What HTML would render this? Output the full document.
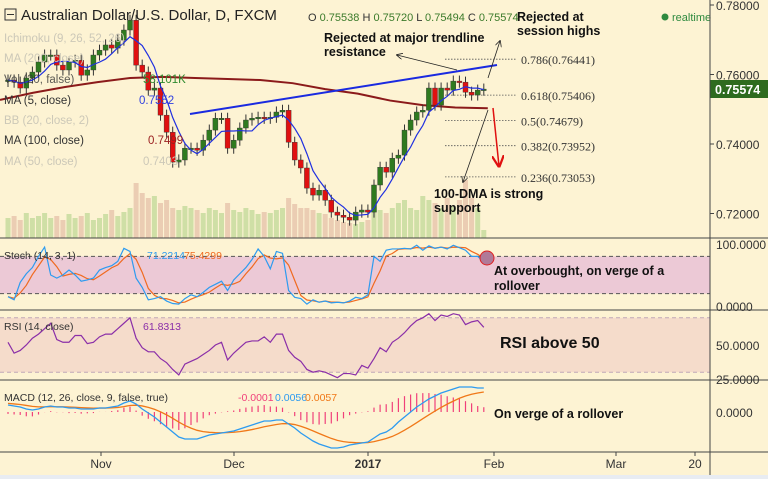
<!DOCTYPE html>
<html><head><meta charset="utf-8"><style>
html,body{margin:0;padding:0;background:#fdf3d3;}
svg{display:block;font-family:"Liberation Sans",sans-serif;}
</style></head><body>
<svg id="chart" width="768" height="479" viewBox="0 0 768 479">
<rect x="0" y="0" width="768" height="479" fill="#fdf3d3"/>
<g id="bands"></g>
<g id="vol"></g>
<g id="grid"></g>
<g id="marks"></g>
<g id="anno"></g>
<g id="axes"></g>
</svg>
<script>
// ---- data ----
const closes=[.7584,.7578,.7561,.7590,.7607,.7636,.7656,.7656,.7627,.7613,.7636,.7641,.7598,.7613,.7656,.7670,.7685,.7676,.7699,.7728,.7756,.7627,.7607,.7555,.7561,.7483,.7434,.7348,.7354,.7388,.7388,.7382,.7411,.7440,.7474,.7474,.7388,.7411,.7446,.7469,.7474,.7477,.7474,.7477,.7492,.7497,.7405,.7354,.7331,.7273,.7253,.7267,.7238,.7204,.7195,.7189,.7181,.7204,.7210,.7204,.7282,.7333,.7319,.7359,.7368,.7440,.7469,.7492,.7497,.7561,.7512,.7561,.7555,.7581,.7578,.7549,.7541,.7555,.7558];
const volumes=[20,22,18,25,20,22,25,20,22,18,24,20,22,25,18,20,24,28,22,26,30,55,45,40,42,35,38,30,28,32,30,28,25,30,28,25,35,28,26,30,28,24,26,25,28,30,40,34,30,30,28,25,24,20,18,16,15,14,16,18,30,28,25,30,35,38,30,28,42,38,35,30,40,32,38,58,40,30,8];
const ma100=[.7527,.7547,.7564,.7578,.7590,.7593,.7590,.7587,.7584,.7575,.7558,.7545,.7525,.7512,.7505,.7503];
const stochK=[15,10,38,52,62,80,95,50,45,50,58,50,40,42,45,58,62,65,72,93,88,45,30,10,12,15,8,4,3,12,18,15,22,30,35,40,25,42,52,62,75,92,80,60,88,85,25,14,12,3,10,6,8,5,6,5,8,14,12,18,80,72,90,92,92,93,92,98,90,97,93,95,92,98,94,90,80,80,71];
const rsi=[52,44,46,50,55,58,62,66,54,52,52,57,57,51,52,56,58,58,62,66,70,55,48,45,45,40,37,32,28,36,38,40,43,46,50,52,39,44,48,52,53,53,56,52,58,58,46,41,38,32,30,31,30,28,26,29,29,28,35,33,40,48,45,52,55,59,64,68,70,73,68,72,71,73,72,65,67,68,63];
const macd=[.0028,.0024,.0020,.0012,.0008,.0012,.0020,.0024,.0020,.0020,.0016,.0016,.0012,.0012,.0012,.0016,.0016,.0020,.0024,.0036,.0044,.0032,.0012,-.0004,-.0020,-.0040,-.0060,-.0080,-.0100,-.0108,-.0108,-.0108,-.0100,-.0092,-.0088,-.0084,-.0080,-.0076,-.0068,-.0060,-.0052,-.0044,-.0036,-.0036,-.0032,-.0032,-.0048,-.0064,-.0084,-.0100,-.0116,-.0128,-.0136,-.0144,-.0144,-.0140,-.0132,-.0128,-.0124,-.0120,-.0104,-.0088,-.0080,-.0064,-.0040,-.0020,0,.0020,.0036,.0052,.0064,.0076,.0084,.0092,.0100,.0100,.0100,.0096,.0096];
const priceTicks=[0.78,0.76,0.74,0.72];
const fibLevels=[0.76441,0.75406,0.74679,0.73952,0.73053];
const fibLabels=["0.786(0.76441)","0.618(0.75406)","0.5(0.74679)","0.382(0.73952)","0.236(0.73053)"];
const xLabels=["Nov","Dec","2017","Feb","Mar","20"];
const xLabelPos=[101,234,368,494,616,695];

// ---- scales ----
const NS="http://www.w3.org/2000/svg";
const xOf=i=>8+i*6.1;
const yP=p=>5+(0.78-p)*3475;
const yS=v=>306-v*0.62;
const yR=v=>345-(v-50)*1.36;
const yM=v=>412-v*2500;
const yV=v=>238-v;
function mk(tag,attrs,parent){const e=document.createElementNS(NS,tag);for(const k in attrs)e.setAttribute(k,attrs[k]);document.getElementById(parent).appendChild(e);return e;}
function txt(s,x,y,attrs,parent){const e=mk('text',Object.assign({x:x,y:y},attrs),parent);e.textContent=s;return e;}
const N=closes.length;
const opens=closes.map((c,i)=>i===0?0.7580:closes[i-1]);
const highs=closes.map((c,i)=>Math.max(c,opens[i])+0.0016);
const lows=closes.map((c,i)=>Math.min(c,opens[i])-0.0016);

let r;
r=mk('rect',{x:0,y:yS(80),width:710,height:yS(20)-yS(80),fill:'#ecc9d6'},'bands');

r=mk('rect',{x:0,y:yR(70),width:710,height:yR(30)-yR(70),fill:'#f5dccb'},'bands');

[[yS(80)],[yS(20)]].forEach(a=>{const l=mk('line',{x1:0,x2:710,y1:a[0],y2:a[0],stroke:'#555',
'stroke-dasharray':'4,3','stroke-width':1},'bands');});
[[yR(70)],[yR(30)]].forEach(a=>{const l=mk('line',{x1:0,x2:710,y1:a[0],y2:a[0],stroke:'#c0a8b8',
'stroke-dasharray':'4,3','stroke-width':1},'bands');});

for(let i=0;i<N;i++){
 const up=closes[i]>=opens[i];
 const b=mk('rect',{x:xOf(i)-2.5,y:yV(volumes[i]),width:5,height:volumes[i],fill:up?'#cfdfa6':'#ebcdb3'},'vol');
 
 
}

let pts=ma100.map((v,k)=>[k*(xOf(N-1)+4)/(ma100.length-1),yP(v)]);
let pl=mk('polyline',{points:pts.map(p=>p.join(',')).join(' '),fill:'none',stroke:'#8b1a1a','stroke-width':2},'marks');


for(let i=0;i<N;i++){
 const up=closes[i]>=opens[i];const col=up?'#2f7a1f':'#e01010';const x=xOf(i);
 const w=mk('line',{x1:x,x2:x,y1:yP(highs[i]),y2:yP(lows[i]),stroke:'#333','stroke-width':1},'marks');
 
 const t=Math.min(yP(opens[i]),yP(closes[i]));const h=Math.max(1.5,Math.abs(yP(opens[i])-yP(closes[i])));
 const c=mk('rect',{x:x-2.5,y:t,width:5,height:h,fill:col,stroke:'#333','stroke-width':0.4},'marks');
 
}
let ma5=closes.map((c,i)=>{const s=closes.slice(Math.max(0,i-4),i+1);return s.reduce((a,b)=>a+b,0)/s.length;});
pl=mk('polyline',{points:ma5.map((v,i)=>xOf(i)+','+yP(v)).join(' '),fill:'none',stroke:'#2030e0','stroke-width':1.2},'marks');


let stochD=stochK.map((v,i)=>{const s=stochK.slice(Math.max(0,i-2),i+1);return s.reduce((a,b)=>a+b,0)/s.length;});
pl=mk('polyline',{points:stochD.map((v,i)=>xOf(i)+','+yS(v)).join(' '),fill:'none',stroke:'#f06a20','stroke-width':1.2},'marks');

pl=mk('polyline',{points:stochK.map((v,i)=>xOf(i)+','+yS(v)).join(' '),fill:'none',stroke:'#2d9bf0','stroke-width':1.2},'marks');


pl=mk('polyline',{points:rsi.map((v,i)=>xOf(i)+','+yR(v)).join(' '),fill:'none',stroke:'#8a2ea8','stroke-width':1.2},'marks');


let sig=[];let e=macd[0]+0.0008;const k=2/10;macd.forEach(v=>{e=v*k+e*(1-k);sig.push(e);});
for(let i=0;i<N;i++){
 const h=macd[i]-sig[i];
 const b=mk('line',{x1:xOf(i),x2:xOf(i),y1:yM(0),y2:yM(h*1.2),stroke:'#f0407a','stroke-width':1.2},'marks');
 
 
}
pl=mk('polyline',{points:sig.map((v,i)=>xOf(i)+','+yM(v)).join(' '),fill:'none',stroke:'#f07818','stroke-width':1.3},'marks');

pl=mk('polyline',{points:macd.map((v,i)=>xOf(i)+','+yM(v)).join(' '),fill:'none',stroke:'#2d9bf0','stroke-width':1.3},'marks');


fibLevels.forEach((p,j)=>{
 const l=mk('line',{x1:445,x2:517,y1:yP(p),y2:yP(p),stroke:'#555','stroke-dasharray':'1.5,1.5','stroke-width':0.8},'anno');
 
 const t=txt(fibLabels[j],521,yP(p)+5,{'font-size':12,fill:'#333','font-family':'"Liberation Serif",serif'},'anno');
 
});

[238,310,380,452].forEach(y=>{const l=mk('line',{x1:0,x2:768,y1:y,y2:y,stroke:'#444','stroke-width':1},'axes');
 });
let ax=mk('line',{x1:710,x2:710,y1:0,y2:475,stroke:'#444','stroke-width':1},'axes');

priceTicks.forEach(p=>{
 const t=txt(p.toFixed(5),716,yP(p)+5,{'font-size':12,fill:'#333'},'axes');
 
 const l=mk('line',{x1:710,x2:714,y1:yP(p),y2:yP(p),stroke:'#444'},'axes');
 
});
[["100.0000",yS(100)],["0.0000",yS(0)],["50.0000",yR(50)],["25.0000",yR(25)],["0.0000",yM(0)]].forEach(a=>{
 const t=txt(a[0],716,a[1]+5,{'font-size':12,fill:'#333'},'axes');
 
});
xLabels.forEach((s,j)=>{
 const t=txt(s,xLabelPos[j],468,{'font-size':12,fill:'#333','text-anchor':'middle','font-weight':s==='2017'?'bold':'normal'},'axes');
 
 const l=mk('line',{x1:xLabelPos[j],x2:xLabelPos[j],y1:452,y2:456,stroke:'#444'},'axes');
 
});
</script>
<script>
const S=document.getElementById('anno');
S.insertAdjacentHTML('beforeend',`
<line x1="190" y1="114" x2="497" y2="65" stroke="#1a2ae0" stroke-width="2"/>
<defs><marker id="ah" markerWidth="8" markerHeight="8" refX="7" refY="4" orient="auto"><path d="M0,0 L8,4 L0,8" fill="none" stroke="#222"/></marker>
<marker id="ahr" markerWidth="8" markerHeight="8" refX="7" refY="4" orient="auto"><path d="M0,0 L8,4 L0,8" fill="none" stroke="#e01010" stroke-width="1.5"/></marker></defs>
<line x1="457" y1="70" x2="397" y2="55" stroke="#222" stroke-width="0.8" marker-end="url(#ah)"/>
<line x1="488" y1="78" x2="500" y2="41" stroke="#222" stroke-width="0.8" marker-end="url(#ah)"/>
<line x1="488" y1="110" x2="463" y2="182" stroke="#222" stroke-width="0.8" marker-end="url(#ah)"/>
<line x1="493" y1="108" x2="499" y2="166" stroke="#e01010" stroke-width="1.5" marker-end="url(#ahr)"/>
<circle cx="487" cy="258" r="7" fill="#b07a98" stroke="#e02020" stroke-width="1"/>
<g font-weight="bold" fill="#111" font-size="12.5">
<text x="324" y="42">Rejected at major trendline</text>
<text x="324" y="56">resistance</text>
<text x="517" y="21">Rejected at</text>
<text x="517" y="35">session highs</text>
<text x="434" y="198">100-DMA is strong</text>
<text x="434" y="212">support</text>
<text x="494" y="275">At overbought, on verge of a</text>
<text x="494" y="290">rollover</text>
<text x="500" y="348" font-size="16">RSI above 50</text>
<text x="494" y="418">On verge of a rollover</text>
</g>
<g font-size="15" fill="#222">
<rect x="5" y="9" width="11" height="11" fill="none" stroke="#333"/>
<line x1="7" y1="14.5" x2="14" y2="14.5" stroke="#333"/>
<text x="21" y="20">Australian Dollar/U.S. Dollar, D, FXCM</text>
</g>
<text x="308" y="21" font-size="11" fill="#333">O <tspan fill="#3a7a2a">0.75538</tspan> H <tspan fill="#3a7a2a">0.75720</tspan> L <tspan fill="#3a7a2a">0.75494</tspan> C <tspan fill="#3a7a2a">0.75574</tspan></text>
<circle cx="665" cy="17" r="3.5" fill="#2f8a3f"/>
<text x="672" y="21" font-size="11" fill="#2f8a3f">realtime</text>
<g font-size="11.5">
<text x="4" y="42" fill="#ccc8b8">Ichimoku (9, 26, 52, 26)</text>
<text x="4" y="62" fill="#ccc8b8">MA (200, close)</text>
<text x="4" y="83" fill="#333" opacity="0.8">Vol (20, false)</text>
<text x="143" y="83" fill="#2f8a2f">58.101K</text>
<text x="4" y="104" fill="#333">MA (5, close)</text>
<text x="139" y="104" fill="#3040e0">0.7552</text>
<text x="4" y="124" fill="#ccc8b8">BB (20, close, 2)</text>
<text x="4" y="144" fill="#333">MA (100, close)</text>
<text x="148" y="144" fill="#9a2020">0.7499</text>
<text x="4" y="165" fill="#ccc8b8">MA (50, close)</text>
<text x="143" y="165" fill="#ccc8b8">0.7403</text>
<text x="4" y="259" fill="#333" font-size="10.5">Stoch (14, 3, 1)</text>
<text x="147" y="259" fill="#2d9bf0" font-size="10.5">71.2214</text>
<text x="184" y="259" fill="#f06a20" font-size="10.5">75.4299</text>
<text x="4" y="330" fill="#333" font-size="10.5">RSI (14, close)</text>
<text x="143" y="330" fill="#8a2ea8" font-size="10.5">61.8313</text>
<text x="4" y="401" fill="#333" font-size="10.5">MACD (12, 26, close, 9, false, true)</text>
<text x="238" y="401" fill="#f0407a" font-size="10.5">-0.0001</text>
<text x="275" y="401" fill="#2d9bf0" font-size="10.5">0.0056</text>
<text x="305" y="401" fill="#f07818" font-size="10.5">0.0057</text>
</g>
<rect x="710" y="80" width="58" height="18" fill="#2e6b1f"/>
<text x="715" y="94" font-size="12.5" font-weight="bold" fill="#fff">0.75574</text>
<rect x="0" y="475" width="768" height="4" fill="#e8ecf2"/>
`);
</script>
</body></html>
